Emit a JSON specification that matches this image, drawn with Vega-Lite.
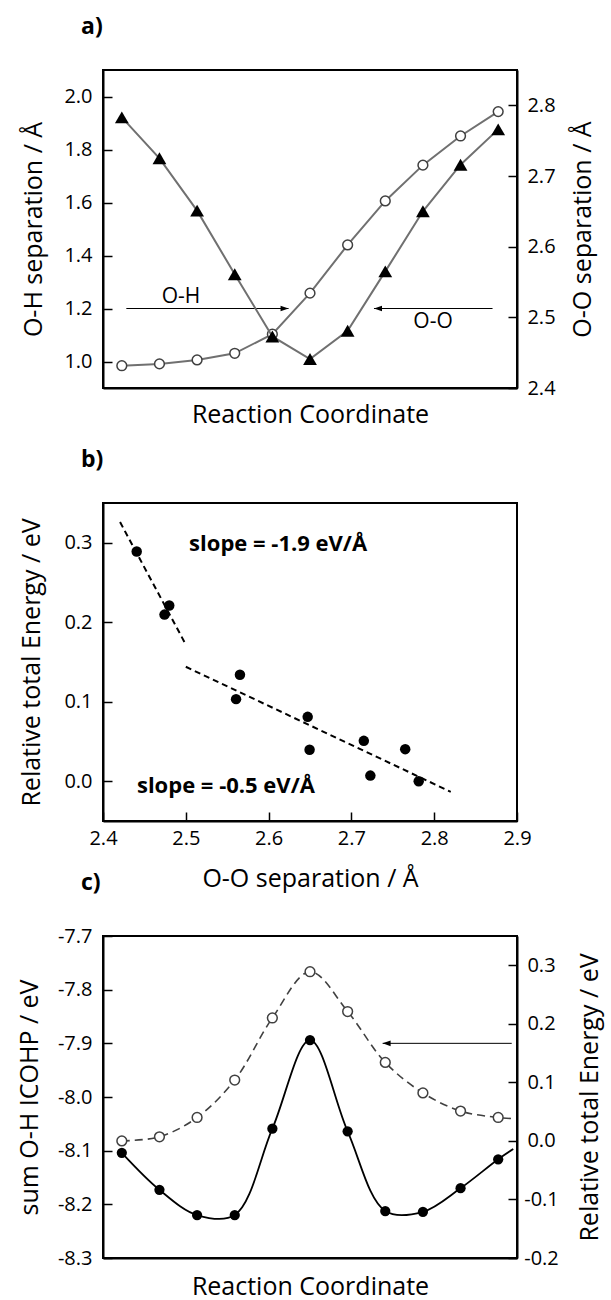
{
  "$schema": "https://vega.github.io/schema/vega-lite/v6.json",
  "autosize": {"type": "none"},
  "padding": {"left": 103, "top": 70, "right": 508, "bottom": 1230},
  "background": "white",
  "bounds": "flush",
  "spacing": 115,
  "datasets": {
    "a": [
      {"i": 0, "oh": 0.984, "oo": 2.783},
      {"i": 1, "oh": 0.991, "oo": 2.725},
      {"i": 2, "oh": 1.006, "oo": 2.651},
      {"i": 3, "oh": 1.031, "oo": 2.561},
      {"i": 4, "oh": 1.103, "oo": 2.473},
      {"i": 5, "oh": 1.258, "oo": 2.441},
      {"i": 6, "oh": 1.440, "oo": 2.481},
      {"i": 7, "oh": 1.606, "oo": 2.565},
      {"i": 8, "oh": 1.741, "oo": 2.650},
      {"i": 9, "oh": 1.851, "oo": 2.716},
      {"i": 10, "oh": 1.943, "oo": 2.766}
    ],
    "aArrows": [
      {"x": 0.12, "x2": 4.43, "y": 1.2, "dir": "right"},
      {"x": 9.85, "x2": 6.7, "y": 1.2, "dir": "left"}
    ],
    "aText": [
      {"x": 1.57, "y": 1.243, "t": "O-H"},
      {"x": 8.27, "y": 1.149, "t": "O-O"}
    ],
    "b": [
      {"oo": 2.4407, "e": 0.289},
      {"oo": 2.4743, "e": 0.2096},
      {"oo": 2.480, "e": 0.221},
      {"oo": 2.5607, "e": 0.1033},
      {"oo": 2.5654, "e": 0.134},
      {"oo": 2.6472, "e": 0.081},
      {"oo": 2.6495, "e": 0.0396},
      {"oo": 2.715, "e": 0.0508},
      {"oo": 2.7229, "e": 0.0071},
      {"oo": 2.765, "e": 0.0404},
      {"oo": 2.7813, "e": 0.0}
    ],
    "bFit": [
      {"seg": 1, "oo": 2.4206, "e": 0.326},
      {"seg": 1, "oo": 2.5005, "e": 0.171},
      {"seg": 2, "oo": 2.5, "e": 0.144},
      {"seg": 2, "oo": 2.820, "e": -0.0133}
    ],
    "bText": [
      {"x": 2.504, "y": 0.299, "t": "slope = -1.9 eV/Å"},
      {"x": 2.441, "y": -0.006, "t": "slope = -0.5 eV/Å"}
    ],
    "c": [
      {"i": 0, "icohp": -8.104, "e": 0.0},
      {"i": 1, "icohp": -8.173, "e": 0.007},
      {"i": 2, "icohp": -8.220, "e": 0.040},
      {"i": 3, "icohp": -8.220, "e": 0.104},
      {"i": 4, "icohp": -8.059, "e": 0.210},
      {"i": 5, "icohp": -7.894, "e": 0.289},
      {"i": 6, "icohp": -8.064, "e": 0.221},
      {"i": 7, "icohp": -8.2125, "e": 0.134},
      {"i": 8, "icohp": -8.214, "e": 0.082},
      {"i": 9, "icohp": -8.170, "e": 0.051},
      {"i": 10, "icohp": -8.116, "e": 0.040},
      {"i": 10.4, "icohp": -8.097, "e": 0.038}
    ],
    "cArrows": [
      {"x": 10.36, "x2": 6.93, "y": -7.9, "dir": "left"}
    ]
  },
  "vconcat": [
    {
      "width": 414,
      "height": 318,
      "title": {"text": "a)"},
      "layer": [
        {
          "layer": [
            {
              "data": {"name": "aArrows"},
              "mark": {"type": "rule", "color": "black", "strokeWidth": 1},
              "encoding": {
                "x": {"field": "x", "type": "quantitative", "scale": {"domain": [-0.5, 10.5], "nice": false, "zero": false}, "axis": {"title": "Reaction Coordinate", "labels": false, "ticks": false, "titlePadding": 14}},
                "x2": {"field": "x2"},
                "y": {"field": "y", "type": "quantitative", "scale": {"domain": [0.9, 2.1], "nice": false, "zero": false}, "axis": {"title": "O-H separation / Å", "values": [1.0, 1.2, 1.4, 1.6, 1.8, 2.0], "format": ".1f", "titlePadding": 17}}
              }
            },
            {
              "data": {"name": "aArrows"},
              "mark": {"type": "point", "filled": true, "color": "black", "opacity": 1, "size": 64},
              "encoding": {
                "x": {"field": "x2", "type": "quantitative", "scale": {"domain": [-0.5, 10.5], "nice": false, "zero": false}},
                "y": {"field": "y", "type": "quantitative", "scale": {"domain": [0.9, 2.1], "nice": false, "zero": false}},
                "shape": {"field": "dir", "type": "nominal", "scale": {"domain": ["right", "left"], "range": ["M0,0L-2,-0.7L-2,0.7Z", "M0,0L2,-0.7L2,0.7Z"]}, "legend": null}
              }
            },
            {
              "data": {"name": "aText"},
              "mark": {"type": "text", "font": "Open Sans", "fontSize": 21, "color": "black", "align": "center", "baseline": "middle"},
              "encoding": {
                "x": {"field": "x", "type": "quantitative", "scale": {"domain": [-0.5, 10.5], "nice": false, "zero": false}},
                "y": {"field": "y", "type": "quantitative", "scale": {"domain": [0.9, 2.1], "nice": false, "zero": false}},
                "text": {"field": "t"}
              }
            },
            {
              "data": {"name": "a"},
              "mark": {"type": "line", "color": "#707070", "strokeWidth": 2},
              "encoding": {
                "x": {"field": "i", "type": "quantitative", "scale": {"domain": [-0.5, 10.5], "nice": false, "zero": false}},
                "y": {"field": "oh", "type": "quantitative", "scale": {"domain": [0.9, 2.1], "nice": false, "zero": false}}
              }
            },
            {
              "data": {"name": "a"},
              "mark": {"type": "point", "shape": "circle", "filled": true, "fill": "white", "stroke": "#404040", "strokeWidth": 1.5, "opacity": 1, "size": 95},
              "encoding": {
                "x": {"field": "i", "type": "quantitative", "scale": {"domain": [-0.5, 10.5], "nice": false, "zero": false}},
                "y": {"field": "oh", "type": "quantitative", "scale": {"domain": [0.9, 2.1], "nice": false, "zero": false}}
              }
            }
          ]
        },
        {
          "data": {"name": "a"},
          "layer": [
            {
              "mark": {"type": "line", "color": "#707070", "strokeWidth": 2},
              "encoding": {
                "x": {"field": "i", "type": "quantitative", "scale": {"domain": [-0.5, 10.5], "nice": false, "zero": false}},
                "y": {"field": "oo", "type": "quantitative", "scale": {"domain": [2.4, 2.85], "nice": false, "zero": false}, "axis": {"orient": "right", "title": "O-O separation / Å", "values": [2.4, 2.5, 2.6, 2.7, 2.8], "format": ".1f", "titlePadding": 15}}
              }
            },
            {
              "mark": {"type": "point", "shape": "triangle-up", "filled": true, "color": "black", "opacity": 1, "size": 190},
              "encoding": {
                "x": {"field": "i", "type": "quantitative", "scale": {"domain": [-0.5, 10.5], "nice": false, "zero": false}},
                "y": {"field": "oo", "type": "quantitative", "scale": {"domain": [2.4, 2.85], "nice": false, "zero": false}}
              }
            }
          ]
        }
      ],
      "resolve": {"scale": {"y": "independent"}, "axis": {"y": "independent"}}
    },
    {
      "width": 414,
      "height": 318,
      "title": {"text": "b)"},
      "layer": [
        {
          "data": {"name": "bFit"},
          "mark": {"type": "line", "color": "black", "strokeWidth": 2, "strokeDash": [6, 4]},
          "encoding": {
            "x": {"field": "oo", "type": "quantitative", "scale": {"domain": [2.4, 2.9], "nice": false, "zero": false}, "axis": {"title": "O-O separation / Å", "values": [2.4, 2.5, 2.6, 2.7, 2.8, 2.9], "format": ".1f", "titlePadding": 18}},
            "y": {"field": "e", "type": "quantitative", "scale": {"domain": [-0.05, 0.35], "nice": false, "zero": false}, "axis": {"title": "Relative total Energy / eV", "values": [0, 0.1, 0.2, 0.3], "format": ".1f", "titlePadding": 19}},
            "detail": {"field": "seg", "type": "nominal"}
          }
        },
        {
          "data": {"name": "b"},
          "mark": {"type": "point", "shape": "circle", "filled": true, "color": "black", "opacity": 1, "size": 110},
          "encoding": {
            "x": {"field": "oo", "type": "quantitative", "scale": {"domain": [2.4, 2.9], "nice": false, "zero": false}},
            "y": {"field": "e", "type": "quantitative", "scale": {"domain": [-0.05, 0.35], "nice": false, "zero": false}}
          }
        },
        {
          "data": {"name": "bText"},
          "mark": {"type": "text", "font": "Open Sans", "fontSize": 22, "fontWeight": "bold", "color": "black", "align": "left", "baseline": "middle"},
          "encoding": {
            "x": {"field": "x", "type": "quantitative", "scale": {"domain": [2.4, 2.9], "nice": false, "zero": false}},
            "y": {"field": "y", "type": "quantitative", "scale": {"domain": [-0.05, 0.35], "nice": false, "zero": false}},
            "text": {"field": "t"}
          }
        }
      ]
    },
    {
      "width": 414,
      "height": 322,
      "title": {"text": "c)"},
      "layer": [
        {
          "layer": [
            {
              "data": {"name": "cArrows"},
              "mark": {"type": "rule", "color": "black", "strokeWidth": 1},
              "encoding": {
                "x": {"field": "x", "type": "quantitative", "scale": {"domain": [-0.5, 10.5], "nice": false, "zero": false}, "axis": {"title": "Reaction Coordinate", "labels": false, "ticks": false, "titlePadding": 16}},
                "x2": {"field": "x2"},
                "y": {"field": "y", "type": "quantitative", "scale": {"domain": [-8.3, -7.7], "nice": false, "zero": false}, "axis": {"title": "sum O-H ICOHP / eV", "values": [-8.3, -8.2, -8.1, -8.0, -7.9, -7.8, -7.7], "labelExpr": "replace(format(datum.value, '.1f'), '\u2212', '-')", "titlePadding": 15}}
              }
            },
            {
              "data": {"name": "cArrows"},
              "mark": {"type": "point", "filled": true, "color": "black", "opacity": 1, "size": 64},
              "encoding": {
                "x": {"field": "x2", "type": "quantitative", "scale": {"domain": [-0.5, 10.5], "nice": false, "zero": false}},
                "y": {"field": "y", "type": "quantitative", "scale": {"domain": [-8.3, -7.7], "nice": false, "zero": false}},
                "shape": {"field": "dir", "type": "nominal", "scale": {"domain": ["right", "left"], "range": ["M0,0L-2,-0.7L-2,0.7Z", "M0,0L2,-0.7L2,0.7Z"]}, "legend": null}
              }
            },
            {
              "data": {"name": "c"},
              "mark": {"type": "line", "color": "black", "strokeWidth": 1.8, "interpolate": "catmull-rom"},
              "encoding": {
                "x": {"field": "i", "type": "quantitative", "scale": {"domain": [-0.5, 10.5], "nice": false, "zero": false}},
                "y": {"field": "icohp", "type": "quantitative", "scale": {"domain": [-8.3, -7.7], "nice": false, "zero": false}}
              }
            },
            {
              "data": {"name": "c"},
              "transform": [{"filter": "datum.i <= 10"}],
              "mark": {"type": "point", "shape": "circle", "filled": true, "color": "black", "opacity": 1, "size": 105},
              "encoding": {
                "x": {"field": "i", "type": "quantitative", "scale": {"domain": [-0.5, 10.5], "nice": false, "zero": false}},
                "y": {"field": "icohp", "type": "quantitative", "scale": {"domain": [-8.3, -7.7], "nice": false, "zero": false}}
              }
            }
          ]
        },
        {
          "data": {"name": "c"},
          "layer": [
            {
              "mark": {"type": "line", "color": "#404040", "strokeWidth": 1.6, "strokeDash": [8, 5], "interpolate": "catmull-rom"},
              "encoding": {
                "x": {"field": "i", "type": "quantitative", "scale": {"domain": [-0.5, 10.5], "nice": false, "zero": false}},
                "y": {"field": "e", "type": "quantitative", "scale": {"domain": [-0.2, 0.35], "nice": false, "zero": false}, "axis": {"orient": "right", "title": "Relative total Energy / eV", "values": [-0.2, -0.1, 0, 0.1, 0.2, 0.3], "labelExpr": "replace(format(datum.value, '.1f'), '\u2212', '-')", "titlePadding": 19}}
              }
            },
            {
              "transform": [{"filter": "datum.i <= 10"}],
              "mark": {"type": "point", "shape": "circle", "filled": true, "fill": "white", "stroke": "#404040", "strokeWidth": 1.5, "opacity": 1, "size": 95},
              "encoding": {
                "x": {"field": "i", "type": "quantitative", "scale": {"domain": [-0.5, 10.5], "nice": false, "zero": false}},
                "y": {"field": "e", "type": "quantitative", "scale": {"domain": [-0.2, 0.35], "nice": false, "zero": false}}
              }
            }
          ]
        }
      ],
      "resolve": {"scale": {"y": "independent"}, "axis": {"y": "independent"}}
    }
  ],
  "config": {
    "font": "Open Sans",
    "view": {"stroke": "black", "strokeWidth": 2},
    "axis": {
      "domain": true, "domainColor": "black", "domainWidth": 2,
      "grid": false,
      "tickSize": -9, "tickWidth": 1.5, "tickColor": "black",
      "labelFont": "Open Sans", "labelFontSize": 20, "labelColor": "black",
      "labelFlush": false, "labelOverlap": false,
      "titleFont": "Open Sans", "titleFontSize": 25, "titleFontWeight": "normal", "titleColor": "black"
    },
    "axisLeft": {"labelPadding": 20},
    "axisRight": {"labelPadding": 33, "labelAlign": "center", "titleAngle": 270, "titleBaseline": "top"},
    "axisBottom": {"labelPadding": 16},
    "title": {"font": "Open Sans", "fontSize": 23, "fontWeight": "bold", "color": "black", "anchor": "start", "frame": "group", "dx": -22, "offset": 31, "baseline": "alphabetic"}
  }
}
